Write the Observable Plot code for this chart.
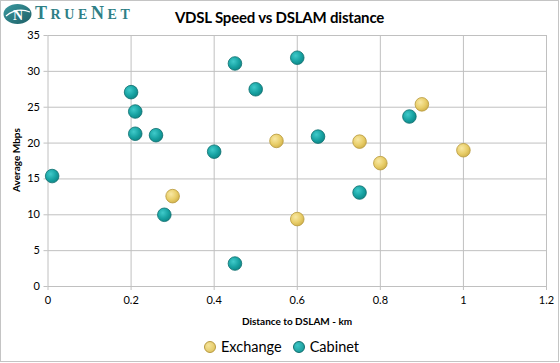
<!DOCTYPE html>
<html><head><meta charset="utf-8">
<script src="https://cdn.jsdelivr.net/npm/d3@7"></script>
<script src="https://cdn.jsdelivr.net/npm/@observablehq/plot@0.6"></script>
<style>
body{margin:0;background:#fff}
#wrap{position:relative;width:560px;height:363px;font-family:Lato,"Open Sans",sans-serif;color:#000;overflow:hidden}
#wrap > svg{position:absolute;left:0;top:0}
.frame{position:absolute;left:0;top:0;width:557px;height:360px;border:1px solid #c4c4c4;pointer-events:none}
.title{position:absolute;left:0;width:559px;top:7px;text-align:center;font-weight:bold;font-size:15px;letter-spacing:-0.2px;line-height:20px}
.logo{position:absolute;left:3px;top:3px;display:flex;align-items:center}
.logo .word{font-family:"Liberation Serif","DejaVu Serif",serif;color:#2f7f86;font-size:14px;letter-spacing:3.6px;margin-left:3px;font-weight:bold;line-height:20px}
.logo .word span{font-size:18px}
.ylab{position:absolute;left:16px;top:160px;transform:translate(-50%,-50%) rotate(-90deg);font-weight:bold;font-size:10px;white-space:nowrap}
.xlab{position:absolute;left:297px;top:321px;transform:translate(-50%,-50%);font-weight:bold;font-size:10px;white-space:nowrap}
.legend{position:absolute;top:337px;left:204px;display:flex;align-items:center;font-size:14.5px;line-height:20px}
.legend .sw{display:inline-block;width:10px;height:10px;border-radius:50%;margin-right:5px}
</style></head>
<body>
<div id="wrap">
  <div class="logo">
    <svg width="29" height="22" viewBox="0 0 29 22">
      <defs><linearGradient id="lg" x1="0" y1="0" x2="1" y2="1"><stop offset="0" stop-color="#3b9aa0"/><stop offset="1" stop-color="#1d5f66"/></linearGradient></defs>
      <ellipse cx="14.5" cy="11" rx="14" ry="10" fill="url(#lg)"/>
      <path d="M3 13 Q14 4 27 9" fill="none" stroke="#fff" stroke-width="1.3"/>
      <text x="15" y="17" text-anchor="middle" font-family="Liberation Serif,serif" font-weight="bold" font-size="14" fill="#fff">N</text>
    </svg>
    <div class="word"><span>T</span>RUE<span>N</span>ET</div>
  </div>
  <div class="title">VDSL Speed vs DSLAM distance</div>
  <div class="ylab">Average Mbps</div>
  <div class="xlab">Distance to DSLAM - km</div>
  <div class="legend">
    <span class="sw" style="background:radial-gradient(circle at 35% 35%,#f6e49a,#dcbf55);border:1px solid #b8993d"></span><span>Exchange</span>
    <span style="width:11px"></span>
    <span class="sw" style="background:radial-gradient(circle at 35% 35%,#3cc6c6,#12908f);border:1px solid #0d6d6d"></span><span>Cabinet</span>
  </div>
  <div class="frame"></div>
</div>
<script>
const exchangeX = [0.30, 0.55, 0.60, 0.75, 0.80, 0.90, 1.00];
const exchangeY = [12.6, 20.3, 9.4, 20.2, 17.2, 25.4, 19.0];
const cabinetX = [0.01, 0.20, 0.21, 0.21, 0.26, 0.28, 0.40, 0.45, 0.45, 0.50, 0.60, 0.65, 0.75, 0.87];
const cabinetY = [15.4, 27.1, 24.4, 21.3, 21.1, 10.0, 18.8, 31.1, 3.2, 27.5, 31.9, 20.9, 13.1, 23.7];
const xTicks = [0, 0.2, 0.4, 0.6, 0.8, 1, 1.2];
const xTickLabels = ["0", "0.2", "0.4", "0.6", "0.8", "1", "1.2"];
const yTicks = [0, 5, 10, 15, 20, 25, 30, 35];
const seriesNames = ["Exchange", "Cabinet"];

const data = [
  ...exchangeX.map((x, i) => ({x, y: exchangeY[i], s: seriesNames[0]})),
  ...cabinetX.map((x, i) => ({x, y: cabinetY[i], s: seriesNames[1]}))
];

const grid = "#c0c0c0";
const chart = Plot.plot({
  width: 560, height: 363,
  marginLeft: 47.5, marginRight: 14, marginTop: 35, marginBottom: 77,
  style: {background: "transparent", fontFamily: "Lato, 'Open Sans', sans-serif", fontSize: "11px", color: "#000"},
  x: {domain: [0, 1.2]},
  y: {domain: [0, 35]},
  marks: [
    Plot.gridX(xTicks, {stroke: grid, strokeOpacity: 1}),
    Plot.gridY(yTicks, {stroke: grid, strokeOpacity: 1}),
    Plot.axisX(xTicks, {tickSize: 4, tickPadding: 6, stroke: grid, tickFormat: d => xTickLabels[xTicks.indexOf(d)], label: null, fontSize: 11}),
    Plot.axisY(yTicks, {tickSize: 4, tickPadding: 4, stroke: grid, label: null, fontSize: 11}),
    Plot.dot(data.filter(d => d.s === "Exchange"), {x: "x", y: "y", r: 6.8, fill: "url(#gEx)", stroke: "#b8993d", strokeWidth: 0.8}),
    Plot.dot(data.filter(d => d.s === "Cabinet"), {x: "x", y: "y", r: 6.8, fill: "url(#gCab)", stroke: "#0d6d6d", strokeWidth: 0.8})
  ]
});
const defs = `<defs>
<radialGradient id="gEx" cx="0.38" cy="0.35" r="0.7">
  <stop offset="0" stop-color="#f8e8a4"/><stop offset="0.6" stop-color="#e8cd68"/><stop offset="1" stop-color="#cfb04a"/>
</radialGradient>
<radialGradient id="gCab" cx="0.38" cy="0.35" r="0.7">
  <stop offset="0" stop-color="#40caca"/><stop offset="0.6" stop-color="#17a2a2"/><stop offset="1" stop-color="#0e8585"/>
</radialGradient></defs>`;
chart.insertAdjacentHTML("afterbegin", defs);
const wrap = document.getElementById("wrap");
wrap.insertBefore(chart, wrap.firstChild);
</script>
</body></html>
